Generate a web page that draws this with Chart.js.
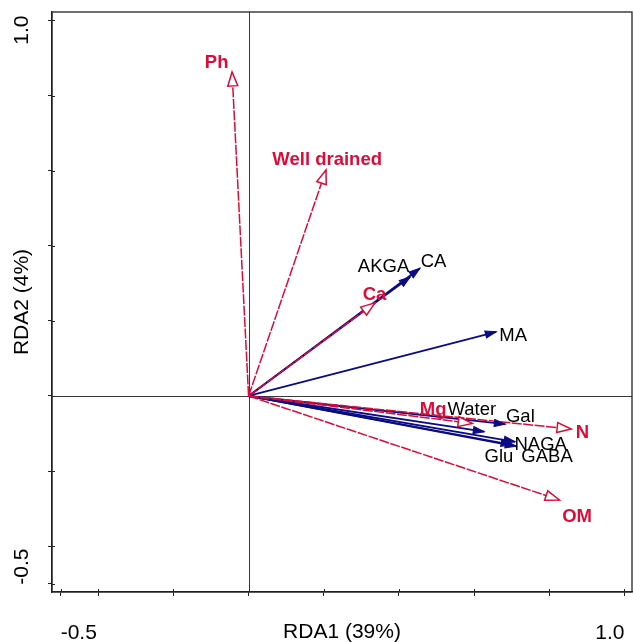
<!DOCTYPE html>
<html><head><meta charset="utf-8">
<script src="https://cdn.jsdelivr.net/npm/chart.js@4.4.1/dist/chart.umd.min.js"></script>
<style>html,body{margin:0;padding:0;background:#fff;}#wrap{width:633px;height:642px;}</style>
</head><body><div id="wrap"><canvas id="c" width="633" height="642"></canvas></div>
<script>
// Environmental variables (red, open heads)
const envNames = ['Ph', 'Well drained', 'Ca', 'Mg', 'N', 'OM'];
const envRDA1 = [-0.044, 0.206, 0.336, 0.595, 0.858, 0.827];
const envRDA2 = [0.863, 0.602, 0.248, -0.073, -0.088, -0.277];
const envLabelRDA1 = [-0.085, 0.209, 0.335, 0.491, 0.888, 0.874];
const envLabelRDA2 = [0.887, 0.629, 0.269, -0.037, -0.099, -0.322];
// Response variables (blue, filled heads)
const metNames = ['AKGA', 'CA', 'MA', 'Water', 'Gal', 'NAGA', 'Glu', 'GABA'];
const metRDA1 = [0.430, 0.456, 0.659, 0.627, 0.683, 0.709, 0.701, 0.712];
const metRDA2 = [0.317, 0.340, 0.171, -0.095, -0.075, -0.122, -0.130, -0.134];
const metLabelRDA1 = [0.359, 0.492, 0.704, 0.594, 0.723, 0.777, 0.666, 0.794];
const metLabelRDA2 = [0.344, 0.357, 0.160, -0.037, -0.056, -0.130, -0.163, -0.163];
// Axes
const tickValues = [-0.5, -0.4, -0.2, 0, 0.2, 0.4, 0.6, 0.8, 1.0];
const labelledTicks = [-0.5, 1.0];
const tickText = ['-0.5', '1.0'];
const xTitle = 'RDA1 (39%)';
const yTitle = 'RDA2 (4%)';

const RED = '#DE0A37';
const BLUE = '#0B0B86';
const FONT = '"Liberation Sans", Arial, Helvetica, sans-serif';

const datasets = [];
envNames.forEach((n, i) => datasets.push({
  label: n, kind: 'env', tag: n,
  data: [{x: 0, y: 0}, {x: envRDA1[i], y: envRDA2[i]}],
  lx: envLabelRDA1[i], ly: envLabelRDA2[i],
  borderColor: RED, borderWidth: 1.5, borderDash: [10, 1.5],
  showLine: true, pointRadius: 0, fill: false
}));
metNames.forEach((n, i) => datasets.push({
  label: n, kind: 'met', tag: n,
  data: [{x: 0, y: 0}, {x: metRDA1[i], y: metRDA2[i]}],
  lx: metLabelRDA1[i], ly: metLabelRDA2[i],
  borderColor: BLUE, borderWidth: 1.8,
  showLine: true, pointRadius: 0, fill: false
}));

function tickLabel(v) {
  const k = labelledTicks.findIndex(t => Math.abs(t - v) < 1e-9);
  return k >= 0 ? tickText[k] : '';
}

const biplot = {
  id: 'biplot',
  beforeDatasetsDraw(chart) {
    const {ctx, chartArea: a, scales: {x, y}} = chart;
    ctx.save();
    ctx.strokeStyle = '#3a3a3a';
    ctx.lineWidth = 1;
    const x0 = Math.round(x.getPixelForValue(0)) + 0.5;
    const y0 = Math.round(y.getPixelForValue(0)) + 0.5;
    ctx.beginPath();
    ctx.moveTo(x0, a.top); ctx.lineTo(x0, a.bottom);
    ctx.moveTo(a.left, y0); ctx.lineTo(a.right, y0);
    ctx.stroke();
    ctx.restore();
  },
  afterDatasetsDraw(chart) {
    const {ctx, scales: {x, y}} = chart;
    ctx.save();
    chart.data.datasets.forEach((ds, i) => {
      const meta = chart.getDatasetMeta(i);
      const p0 = meta.data[0], p1 = meta.data[1];
      const ang = Math.atan2(p1.y - p0.y, p1.x - p0.x);
      ctx.save();
      ctx.translate(p1.x, p1.y);
      ctx.rotate(ang);
      ctx.beginPath();
      ctx.setLineDash([]);
      if (ds.kind === 'env') {
        const L = 14, W = 5;
        ctx.moveTo(0, 0); ctx.lineTo(-L, -W); ctx.lineTo(-L, W); ctx.closePath();
        ctx.fillStyle = '#fff'; ctx.fill();
        ctx.strokeStyle = RED; ctx.lineWidth = 1.5; ctx.stroke();
      } else {
        const L = 11, W = 3.6;
        ctx.moveTo(0, 0); ctx.lineTo(-L, -W); ctx.lineTo(-L, W); ctx.closePath();
        ctx.fillStyle = BLUE; ctx.fill();
        ctx.strokeStyle = BLUE; ctx.lineWidth = 1; ctx.stroke();
      }
      ctx.restore();
    });
    ctx.textAlign = 'center';
    ctx.textBaseline = 'middle';
    chart.data.datasets.forEach(ds => {
      const px = x.getPixelForValue(ds.lx), py = y.getPixelForValue(ds.ly);
      if (ds.kind === 'env') { ctx.font = 'bold 18.5px ' + FONT; ctx.fillStyle = RED; }
      else { ctx.font = '18.5px ' + FONT; ctx.fillStyle = '#000'; }
      ctx.fillText(ds.tag, px, py);
    });
    ctx.restore();
  },
  afterDraw(chart) {
    const {ctx, chartArea: a, scales: {x, y}} = chart;
    ctx.save();
    ctx.strokeStyle = '#222';
    ctx.lineWidth = 1.3;
    ctx.strokeRect(a.left, a.top, a.right - a.left, a.bottom - a.top);
    // inner halves of the crossing tick marks
    ctx.lineWidth = 1;
    ctx.beginPath();
    tickValues.forEach(v => {
      const px = Math.round(x.getPixelForValue(v)) + 0.5;
      ctx.moveTo(px, a.bottom); ctx.lineTo(px, a.bottom - 3);
      const py = Math.round(y.getPixelForValue(v)) + 0.5;
      ctx.moveTo(a.left, py); ctx.lineTo(a.left + 3, py);
    });
    ctx.stroke();
    // rotated y tick labels
    ctx.fillStyle = '#000';
    ctx.font = '21px ' + FONT;
    ctx.textBaseline = 'middle';
    labelledTicks.forEach((v, k) => {
      const py = y.getPixelForValue(v);
      ctx.save();
      ctx.translate(22, py);
      ctx.rotate(-Math.PI / 2);
      ctx.textAlign = k === 0 ? 'left' : 'right';
      ctx.fillText(tickText[k], k === 0 ? -1 : 5, 0);
      ctx.restore();
    });
    // axis titles
    ctx.textAlign = 'center';
    ctx.fillText(xTitle, (a.left + a.right) / 2, 632);
    ctx.save();
    ctx.translate(22, (a.top + a.bottom) / 2);
    ctx.rotate(-Math.PI / 2);
    ctx.fillText(yTitle, 0, 0);
    ctx.restore();
    ctx.restore();
  }
};

new Chart(document.getElementById('c'), {
  type: 'scatter',
  data: {datasets},
  options: {
    responsive: false,
    animation: false,
    devicePixelRatio: 1,
    layout: {autoPadding: false, padding: {top: 12, right: 1, left: 0, bottom: 0}},
    plugins: {legend: {display: false}, tooltip: {enabled: false}},
    scales: {
      x: {
        type: 'linear', min: -0.523, max: 1.020,
        afterBuildTicks: s => { s.ticks = tickValues.map(v => ({value: v})); },
        afterFit: s => { s.height = 50; s.paddingLeft = 0; s.paddingRight = 0; },
        grid: {drawOnChartArea: false, drawTicks: true, tickLength: 4, color: '#222', lineWidth: 1},
        border: {display: true, color: '#222', width: 1.3},
        ticks: {callback: v => tickLabel(v), align: 'inner', autoSkip: false, maxRotation: 0,
          padding: 25, color: '#000', font: {size: 21, family: FONT}}
      },
      y: {
        type: 'linear', min: -0.522, max: 1.0226,
        afterBuildTicks: s => { s.ticks = tickValues.map(v => ({value: v})); },
        afterFit: s => { s.width = 52; s.paddingTop = 0; s.paddingBottom = 0; },
        grid: {drawOnChartArea: false, drawTicks: true, tickLength: 4, color: '#222', lineWidth: 1},
        border: {display: true, color: '#222', width: 1.3},
        ticks: {display: false}
      }
    }
  },
  plugins: [biplot]
});
</script>
</body></html>
